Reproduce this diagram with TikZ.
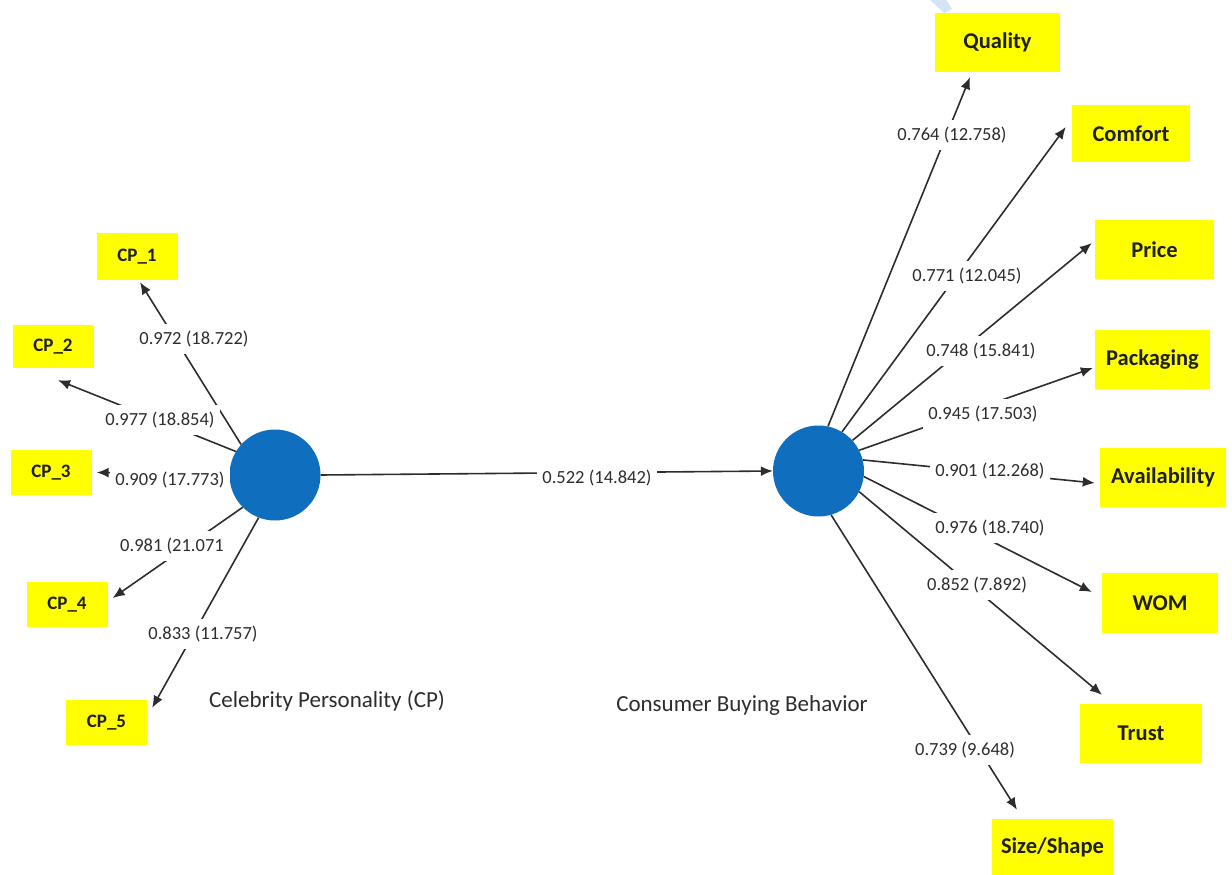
\documentclass[tikz,border=0pt]{standalone}
\usepackage{fontspec}
\setmainfont{Carlito}
\usetikzlibrary{arrows.meta}
\definecolor{latentblue}{RGB}{16,110,190}
\definecolor{indyellow}{RGB}{255,255,0}
\definecolor{edgegrey}{RGB}{45,45,45}
\definecolor{labgrey}{RGB}{45,45,45}
\definecolor{paleblue}{RGB}{212,228,247}

\begin{document}
\begin{tikzpicture}[x=1pt,y=-1pt,
  latentvar/.style={circle,fill=latentblue,minimum size=91pt,inner sep=0pt},
  indbox/.style={fill=indyellow,inner sep=0pt,text=black!88,
    font=\bfseries\fontsize{22.5}{24}\selectfont},
  cpbox/.style={indbox,minimum width=81pt,minimum height=45pt,
    font=\bfseries\fontsize{19}{21}\selectfont},
  loadarrow/.style={draw=edgegrey,line width=1.6pt,-{Latex[length=12pt,width=10pt]}},
  weight/.style={fill=white,text=labgrey,inner xsep=5pt,inner ysep=7pt,
    font=\fontsize{18.5}{20}\selectfont},
  caption/.style={text=labgrey,font=\fontsize{23}{25}\selectfont}
]
\useasboundingbox (0,0) rectangle (1232,875);

% small pale stroke at the top edge
\fill[paleblue] (930,0) -- (946,0) -- (952,9) -- (944,13) -- cycle;

% latent variables
\node[latentvar] (cp)  at (275,475) {};
\node[latentvar] (cbb) at (818.5,471) {};

% indicators of Celebrity Personality
\node[cpbox,minimum height=47pt] (cp1) at (137,256.5) {CP\_1};
\node[cpbox,minimum height=43pt] (cp2) at (53,346.5)  {CP\_2};
\node[cpbox] (cp3) at (51,472.5)  {CP\_3};
\node[cpbox] (cp4) at (67,604.5)  {CP\_4};
\node[cpbox] (cp5) at (106.5,722.5) {CP\_5};

% indicators of Consumer Buying Behavior
\node[indbox,minimum width=125pt,minimum height=59pt] (quality)   at (997.5,42.5)  {Quality};
\node[indbox,minimum width=118pt,minimum height=57pt] (comfort)   at (1131,133.5)  {Comfort};
\node[indbox,minimum width=119pt,minimum height=59pt] (price)     at (1154.5,249.5){Price};
\node[indbox,minimum width=115pt,minimum height=59pt] (packaging) at (1152.5,359.5){Packaging};
\node[indbox,minimum width=126pt,minimum height=59pt] (avail)     at (1163,477.5)  {Availability};
\node[indbox,minimum width=116pt,minimum height=60pt] (wom)       at (1160,603)    {WOM};
\node[indbox,minimum width=122pt,minimum height=59pt] (trust)     at (1141,733.5)  {Trust};
\node[indbox,minimum width=121pt,minimum height=56pt] (sizeshape) at (1052.5,847)  {Size/Shape};

% outer loadings, left
\draw[loadarrow] (cp.138) -- ([xshift=3pt,yshift=-2pt]cp1.south);
\draw[loadarrow] (cp.149) -- ([xshift=5pt,yshift=-12pt]cp2.south);
\draw[loadarrow] (cp.178) -- ([xshift=5pt]cp3.east);
\draw[loadarrow] (cp.225) -- ([xshift=5pt,yshift=6.5pt]cp4.east);
\draw[loadarrow] (cp.249) -- ([xshift=5pt,yshift=-8pt]cp5.north east);

% structural path
\draw[loadarrow] (cp.east) -- (cbb.west);

% outer loadings, right
\draw[loadarrow] (cbb.78)  -- ([xshift=-27.5pt,yshift=-5pt]quality.south);
\draw[loadarrow] (cbb.59)  -- ([xshift=-6pt,yshift=6.5pt]comfort.west);
\draw[loadarrow] (cbb.42)  -- ([xshift=-3pt,yshift=6.5pt]price.west);
\draw[loadarrow] (cbb.27)  -- ([xshift=-2pt,yshift=-8.5pt]packaging.west);
\draw[loadarrow] (cbb.14)  -- ([xshift=-5pt,yshift=-5.5pt]avail.west);
\draw[loadarrow] (cbb.-7)  -- ([xshift=-10pt,yshift=11pt]wom.west);
\draw[loadarrow] (cbb.-27) -- ([xshift=-39pt,yshift=9pt]trust.north);
\draw[loadarrow] (cbb.-74) -- ([xshift=-35.5pt,yshift=9pt]sizeshape.north);

% path coefficients (t-values)
\node[weight] (w1) at (194,339) {0.972 (18.722)};
\node[weight] (w2) at (160,420) {0.977 (18.854)};
\node[weight] (w3) at (170,480) {0.909 (17.773)};
\node[weight] (w4) at (172,546) {0.981 (21.071};
\node[weight] (w5) at (203,634) {0.833 (11.757)};
\node[weight] (w0) at (597,478) {0.522 (14.842)};
\node[weight] (q1) at (952,135) {0.764 (12.758)};
\node[weight] (q2) at (967,276) {0.771 (12.045)};
\node[weight] (q3) at (981,351) {0.748 (15.841)};
\node[weight] (q4) at (983,414) {0.945 (17.503)};
\node[weight] (q5) at (990,471) {0.901 (12.268)};
\node[weight] (q6) at (990,528) {0.976 (18.740)};
\node[weight] (q7) at (977,585) {0.852 (7.892)};
\node[weight] (q8) at (965,750) {0.739 (9.648)};

% construct names
\node[caption] (cpname)  at (327,701) {Celebrity Personality (CP)};
\node[caption] (cbbname) at (742,705) {Consumer Buying Behavior};
\end{tikzpicture}
\end{document}
